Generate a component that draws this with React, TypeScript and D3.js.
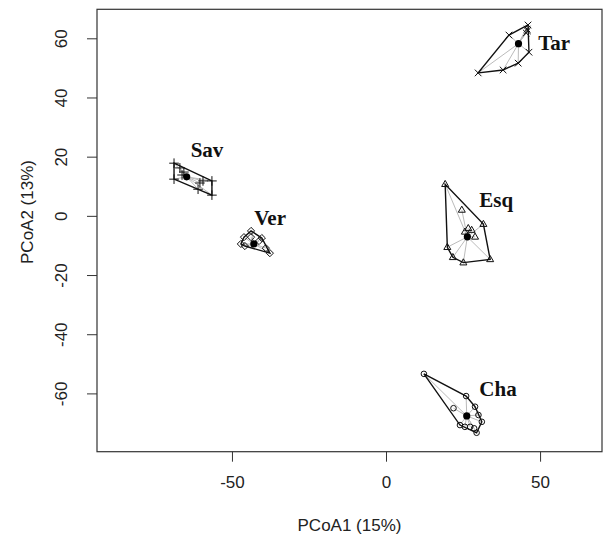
import React, { useEffect, useRef } from 'react'
import * as d3 from 'd3'

// group names, marker type and label anchor (data units)
const groups = ['Tar', 'Sav', 'Ver', 'Esq', 'Cha']
const shapes = ['cross', 'plus', 'diamond', 'triangle', 'circle']

const tarPts = [[29.9, 48.3], [39.9, 61.1], [46.1, 64.5], [45.8, 63.1], [45.5, 61.8], [45.9, 62.5], [46.4, 55.3], [42.9, 51.6], [38.0, 49.3]]
const savPts = [[-68.8, 17.8], [-68.8, 12.4], [-66.2, 13.8], [-65.6, 14.8], [-66.9, 16.2], [-60.4, 11.1], [-59.4, 11.8], [-56.5, 11.8], [-56.5, 7.0], [-61.0, 9.0]]
const verPts = [[-43.8, -5.1], [-46.1, -7.2], [-47.1, -9.5], [-45.8, -10.2], [-43.8, -7.2], [-41.2, -8.5], [-40.3, -7.5], [-39.0, -10.9], [-37.7, -12.6]]
const esqPts = [[19.2, 10.7], [24.6, 2.0], [31.6, -2.8], [26.7, -4.2], [27.8, -4.8], [28.9, -7.1], [25.6, -5.4], [19.9, -10.6], [21.7, -14.0], [25.1, -15.8], [33.8, -14.7]]
const chaPts = [[12.3, -53.4], [26.0, -60.9], [28.9, -64.5], [21.9, -65.0], [30.0, -67.3], [31.1, -69.6], [24.0, -70.7], [25.6, -71.3], [27.3, -71.3], [28.6, -71.8], [29.4, -73.3]]

const centroids = [[43.0, 58.2], [-64.7, 13.2], [-42.9, -9.5], [26.4, -7.1], [26.2, -67.6]]
const labelPos = [[49.4, 56.0], [-63.4, 19.9], [-42.8, -3.1], [30.3, 3.1], [30.3, -60.9]]

const xTicks = [-50, 0, 50]
const yTicks = [-60, -40, -20, 0, 20, 40, 60]

const markerPath: Record<string, string> = {
  cross: 'M-3.3,-3.3L3.3,3.3M-3.3,3.3L3.3,-3.3',
  plus: 'M-4.8,0H4.8M0,-4.8V4.8',
  diamond: 'M0,-3.6L3.6,0L0,3.6L-3.6,0Z',
  triangle: 'M0,-3.8L3.5,2.3L-3.5,2.3Z',
}

export default function App() {
  const ref = useRef<SVGSVGElement | null>(null)

  useEffect(() => {
    document.body.style.margin = '0'
    const svg = d3.select(ref.current)
    svg.selectAll('*').remove()

    const width = 604
    const height = 539
    const margin = { top: 9.3, right: 2, bottom: 87.3, left: 97 }
    const x = d3.scaleLinear().domain([-93.8, 70.1]).range([margin.left, width - margin.right])
    const y = d3.scaleLinear().domain([-79.7, 69.8]).range([height - margin.bottom, margin.top])

    const sans = "'Liberation Sans', Arial, sans-serif"
    const allPts = [tarPts, savPts, verPts, esqPts, chaPts]
    const fmt = (d: any) => String(d)

    // axes
    const xAxis = svg.append('g').attr('transform', `translate(0,${height - margin.bottom})`)
      .call(d3.axisBottom(x).tickValues(xTicks).tickSize(10).tickPadding(14).tickFormat(fmt))
    xAxis.select('.domain').remove()
    xAxis.selectAll('line').attr('stroke', '#333')
    xAxis.selectAll('text').attr('font-family', sans).attr('font-size', 17).attr('fill', '#222')

    const yAxis = svg.append('g').attr('transform', `translate(${margin.left},0)`)
      .call(d3.axisLeft(y).tickValues(yTicks).tickSize(10).tickFormat(fmt))
    yAxis.select('.domain').remove()
    yAxis.selectAll('line').attr('stroke', '#333')
    yAxis.selectAll('text')
      .attr('font-family', sans).attr('font-size', 17).attr('fill', '#222')
      .attr('x', 0).attr('dy', null).attr('text-anchor', 'middle')
      .attr('dominant-baseline', 'central')
      .attr('transform', 'translate(-36,0) rotate(-90)')

    svg.append('rect')
      .attr('x', margin.left).attr('y', margin.top)
      .attr('width', width - margin.left - margin.right)
      .attr('height', height - margin.top - margin.bottom)
      .attr('fill', 'none').attr('stroke', '#333').attr('stroke-width', 1.2)

    svg.append('text')
      .attr('x', (margin.left + width - margin.right) / 2).attr('y', 531)
      .attr('text-anchor', 'middle').attr('font-family', sans).attr('font-size', 17).attr('fill', '#222')
      .text('PCoA1 (15%)')

    svg.append('text')
      .attr('transform', 'translate(33,212) rotate(-90)')
      .attr('text-anchor', 'middle').attr('font-family', sans).attr('font-size', 17).attr('fill', '#222')
      .text('PCoA2 (13%)')

    groups.forEach((name, i) => {
      const pts = allPts[i].map(p => [x(p[0]), y(p[1])] as [number, number])
      const c = centroids[i]
      const g = svg.append('g')

      // spider
      g.selectAll('line.sp').data(pts).enter().append('line')
        .attr('x1', x(c[0])).attr('y1', y(c[1]))
        .attr('x2', d => d[0]).attr('y2', d => d[1])
        .attr('stroke', '#bbbbbb').attr('stroke-width', 1)

      // hull
      const hull = d3.polygonHull(pts)
      if (hull) {
        g.append('path').attr('d', 'M' + hull.join('L') + 'Z')
          .attr('fill', 'none').attr('stroke', '#111').attr('stroke-width', 1.4)
      }

      // markers
      const shape = shapes[i]
      if (shape === 'circle') {
        g.selectAll('circle.pt').data(pts).enter().append('circle')
          .attr('cx', d => d[0]).attr('cy', d => d[1]).attr('r', 2.8)
          .attr('fill', 'none').attr('stroke', '#111').attr('stroke-width', 1)
      } else {
        g.selectAll('path.pt').data(pts).enter().append('path')
          .attr('transform', d => `translate(${d[0]},${d[1]})`)
          .attr('d', markerPath[shape])
          .attr('fill', 'none').attr('stroke', '#111').attr('stroke-width', 1)
      }

      g.append('circle').attr('cx', x(c[0])).attr('cy', y(c[1])).attr('r', 3.6).attr('fill', '#000')

      g.append('text')
        .attr('x', x(labelPos[i][0])).attr('y', y(labelPos[i][1]))
        .attr('font-family', "'Liberation Serif', 'Times New Roman', serif")
        .attr('font-weight', 'bold').attr('font-size', 21).attr('fill', '#111')
        .text(name)
    })
  }, [])

  return <svg ref={ref} width={604} height={539} style={{ display: 'block', background: '#fff' }} />
}
